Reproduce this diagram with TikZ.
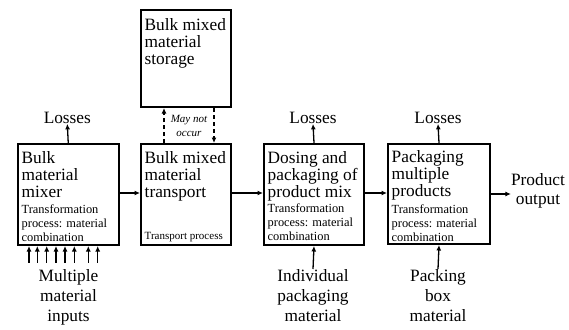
\documentclass[tikz,border=0pt]{standalone}
\usepackage{fontspec}
\setmainfont{Liberation Serif}
\usetikzlibrary{arrows.meta}
\begin{document}
\begin{tikzpicture}[x=1pt,y=-1pt,
  box/.style={draw, line width=2pt, rectangle, inner sep=0pt, anchor=north west},
  bigtxt/.style={inner sep=0pt, align=left, anchor=north west, font=\fontsize{17.3}{17}\selectfont},
  smalltxt/.style={inner sep=0pt, align=left, anchor=north west, font=\fontsize{12.4}{14}\selectfont},
  lbl/.style={inner sep=0pt, align=center, font=\fontsize{17.3}{20}\selectfont},
  arr/.style={line width=1.3pt, -{Latex[length=5.5pt,width=5pt]}},
  darr/.style={line width=1.3pt, dash pattern=on 4pt off 3pt, -{Latex[length=5.5pt,width=5pt]}}
]
\useasboundingbox (0,0) rectangle (569,329);

% boxes
\node[box, minimum width=101.5pt, minimum height=101pt] (b1) at (16.5,143) {};
\node[box, minimum width=90pt, minimum height=101pt] (b2) at (140,143) {};
\node[box, minimum width=90pt, minimum height=97pt] (st) at (140,9) {};
\node[box, minimum width=100pt, minimum height=101pt] (b3) at (263,143) {};
\node[box, minimum width=102pt, minimum height=100pt] (b4) at (387,143) {};

% box texts
\node[bigtxt] (t1) at (21.5,151) {Bulk\\material\\mixer};
\node[smalltxt] (s1) at (21.5,205) {Transformation\\process: material\\combination};

\node[bigtxt] (t2) at (144.5,151) {Bulk mixed\\material\\transport};
\node[inner sep=0pt, anchor=base west, font=\fontsize{11}{13}\selectfont] (s2) at (144.5,239.5) {Transport process};

\node[bigtxt] (tst) at (144.5,18) {Bulk mixed\\material\\storage};

\node[bigtxt] (t3) at (267.5,151) {Dosing and\\packaging of\\product mix};
\node[smalltxt] (s3) at (267.5,204) {Transformation\\process: material\\combination};

\node[bigtxt] (t4) at (391.5,150) {Packaging\\multiple\\products};
\node[smalltxt] (s4) at (391.5,204.5) {Transformation\\process: material\\combination};

% losses
\node[lbl, anchor=base] (l1) at (67.3,123.5) {Losses};
\node[lbl, anchor=base] (l3) at (313,123.5) {Losses};
\node[lbl, anchor=base] (l4) at (438,123.5) {Losses};
\draw[arr] (b1.north) -- (l1.south);
\draw[arr] (b3.north) -- (l3.south);
\draw[arr] (b4.north) -- (l4.south);

% horizontal flow
\draw[arr] (b1.east |- 0,193) -- (b2.west |- 0,193);
\draw[arr] (b2.east |- 0,193) -- (b3.west |- 0,193);
\draw[arr] (b3.east |- 0,193) -- (b4.west |- 0,193);
\node[lbl, anchor=north, font=\fontsize{17.3}{19}\selectfont] (po) at (538,173.5) {Product\\output};
\draw[arr] (b4.east |- 0,194) -- (po.west |- 0,194);

% storage dashed
\draw[darr] (b2.north -| 164,0) -- (st.south -| 164,0);
\draw[darr] (st.south -| 214,0) -- (b2.north -| 214,0);
\node[inner sep=0pt, align=center, font=\fontsize{11}{14}\itshape\selectfont] (mn) at (189,125.5) {May not\\occur};

% bottom inputs
\node[lbl, anchor=north] (in1) at (68.5,269) {Multiple\\material\\inputs};
\foreach \xx [count=\i] in {29,37.3,46.7,56,65,74.3,88.3,97.7} {
  \coordinate (ia\i) at (\xx,262.5);
  \draw[arr] (ia\i) -- (ia\i |- b1.south);
}
\node[lbl, anchor=north] (in3) at (313,269) {Individual\\packaging\\material};
\draw[arr] (in3.north) -- (b3.south);
\node[lbl, anchor=north] (in4) at (438,269) {Packing\\box\\material};
\draw[arr] (in4.north) -- (b4.south);
\end{tikzpicture}
\end{document}
